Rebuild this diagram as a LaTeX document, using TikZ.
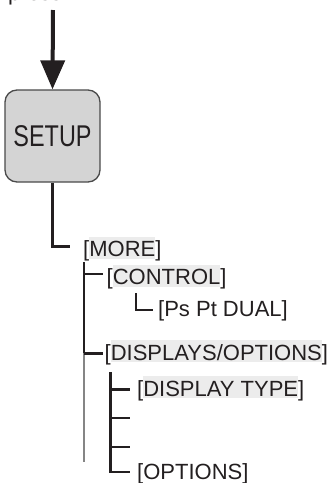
\documentclass[tikz,border=0pt]{standalone}
\usepackage{fontspec}
\setmainfont{Liberation Sans}
\usetikzlibrary{arrows.meta}
\definecolor{ink}{HTML}{231F20}
\definecolor{boxfill}{HTML}{D4D4D4}
\definecolor{boxline}{HTML}{4A4A4A}
\definecolor{hlgray}{HTML}{ECECEC}
\definecolor{trunkgray}{HTML}{858585}
\newcommand\hlbox[1]{\setbox0\hbox{#1}\rlap{\color{hlgray}\rule[-2pt]{\wd0}{22pt}}\box0}
\begin{document}
\begin{tikzpicture}[x=1pt,y=-1pt,
  lbl/.style={anchor=base west, inner sep=0pt, font=\fontsize{22}{26}\selectfont, text=ink},
  treeline/.style={draw=ink, line width=2.8pt},
  graytrunk/.style={draw=trunkgray, line width=2.8pt}]
\useasboundingbox (0,0) rectangle (330,483);
\begin{scope}
  \clip (0,0) rectangle (330,483);
  \node[lbl] (press) at (8,0) {press};
\end{scope}
\node[draw=boxline, fill=boxfill, rounded corners=12pt, minimum width=95pt,
      minimum height=92pt, line width=1.3pt, inner sep=0pt, text=ink] (setup) at (52.5,136)
      {\scalebox{0.78}[1]{\fontsize{30}{34}\selectfont SETUP}};
\draw[draw=ink, line width=4pt, -{Triangle[length=29pt,width=24pt]}] (53,10) coordinate (start) -- (setup.north);

\node[lbl] (more) at (83,256.5) {[\hlbox{MORE}]};
\node[lbl] (control) at (106.5,284.5) {[\hlbox{CONTROL}]};
\node[lbl] (dual) at (158,316.5) {[Ps Pt DUAL]};
\node[lbl] (disp) at (104.5,360) {[\hlbox{DISPLAYS/OPTIONS}]};
\node[lbl] (dtype) at (137,396) {[\hlbox{DISPLAY TYPE}]};
\node[lbl] (opts) at (137,479.5) {[OPTIONS]};

\coordinate (morehook) at (70,246.5);
\coordinate (trunktop) at (84,262);
\coordinate (trunkmid) at (84,353);
\coordinate (trunkend) at (84,462);
\coordinate (ctrlend) at (103,274);
\coordinate (dualtop) at (136,293);
\coordinate (dualend) at (153,310);
\coordinate (dispend) at (103,353.3);
\coordinate (subtop) at (110.5,372);
\coordinate (dtypeend) at (130,389.5);
\coordinate (blankA) at (130,418);
\coordinate (blankB) at (130,447);
\coordinate (optsend) at (130,472);

\draw[treeline] (setup.south) |- (morehook);
\draw[treeline] (trunktop) -- (trunkmid);
\draw[graytrunk] (trunkmid) -- (trunkend);
\draw[treeline] (trunktop |- ctrlend) -- (ctrlend);
\draw[treeline] (dualtop) |- (dualend);
\draw[treeline] (trunktop |- dispend) -- (dispend);
\draw[treeline] (subtop) |- (optsend);
\draw[treeline] (subtop |- dtypeend) -- (dtypeend);
\draw[treeline] (subtop |- blankA) -- (blankA);
\draw[treeline] (subtop |- blankB) -- (blankB);
\end{tikzpicture}
\end{document}
